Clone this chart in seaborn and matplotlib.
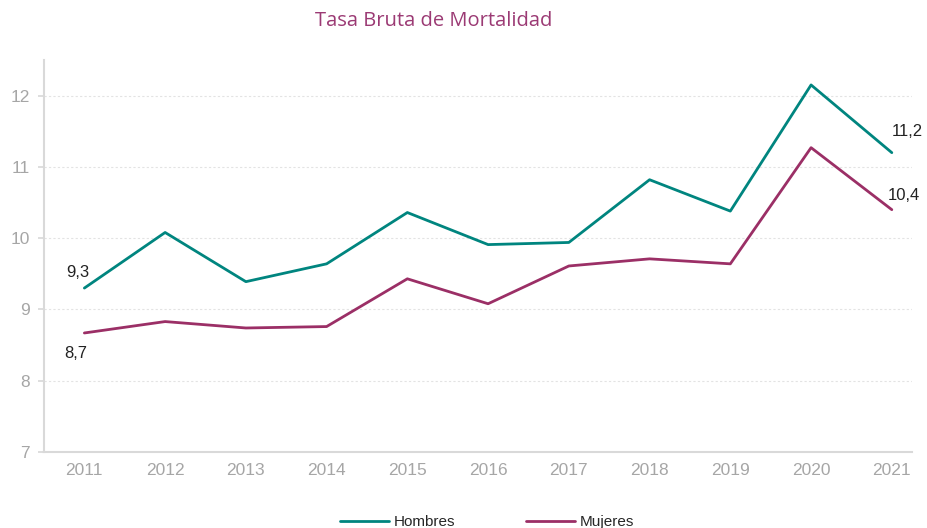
import matplotlib
matplotlib.use("Agg")
import matplotlib.pyplot as plt
from matplotlib.lines import Line2D
import numpy as np
import pandas as pd
import seaborn as sns

years = ["2011", "2012", "2013", "2014", "2015", "2016", "2017", "2018", "2019", "2020", "2021"]
hombres = [9.30, 10.08, 9.39, 9.64, 10.36, 9.91, 9.94, 10.82, 10.38, 12.15, 11.20]
mujeres = [8.67, 8.83, 8.74, 8.76, 9.43, 9.08, 9.61, 9.71, 9.64, 11.27, 10.40]

teal = "#00857f"
plum = "#9b2f66"
grey = "#a6a6a6"

df = pd.DataFrame({"Año": years * 2,
                   "Tasa": hombres + mujeres,
                   "Sexo": ["Hombres"] * len(years) + ["Mujeres"] * len(years)})

sns.set_theme(style="white")
plt.rcParams['font.family'] = ['Liberation Sans', 'DejaVu Sans']

fig = plt.figure(figsize=(9.28, 5.28), dpi=100)
ax = fig.add_axes([44 / 928, 1 - 452 / 528, (912 - 44) / 928, (452 - 60) / 528])

sns.lineplot(data=df, x="Año", y="Tasa", hue="Sexo", palette=[teal, plum],
             linewidth=2, ax=ax, legend=False, sort=False)

ax.set_xlim(-0.5, 10.25)
ax.set_ylim(7, 12.5)
ax.set_yticks([7, 8, 9, 10, 11, 12])
ax.set_xticks(np.arange(-0.5, 10.5, 1), minor=True)
ax.tick_params(axis="x", which="major", length=0, labelsize=12.5, labelcolor=grey, pad=8)
ax.tick_params(axis="x", which="minor", length=4, color="#d9d9d9", width=1)
ax.tick_params(axis="y", length=4, color="#d9d9d9", labelsize=12.5, labelcolor=grey, pad=6, left=True)
ax.set_xlabel("")
ax.set_ylabel("")
ax.grid(axis="y", color="#e3e3e3", linestyle=(0, (2, 2)), linewidth=0.8)
for s in ["top", "right"]:
    ax.spines[s].set_visible(False)
for s in ["left", "bottom"]:
    ax.spines[s].set_color("#d9d9d9")
    ax.spines[s].set_linewidth(1.5)

# data labels for first and last years
lab = dict(textcoords="offset points", ha="center", va="center", fontsize=12, color="#222222")
ax.annotate("9,3", (0, hombres[0]), xytext=(-5, 11), **lab)
ax.annotate("8,7", (0, mujeres[0]), xytext=(-6.5, -14.5), **lab)
ax.annotate("11,2", (10, hombres[-1]), xytext=(11, 15), **lab)
ax.annotate("10,4", (10, mujeres[-1]), xytext=(9, 10), **lab)

fig.text(434 / 928, 1 - 21 / 528, "Tasa Bruta de Mortalidad", ha="center", va="center",
         fontsize=14.5, color="#9b3a74", family=["Open Sans", "DejaVu Sans"])

# legend
handles = [Line2D([], [], color=teal, lw=2), Line2D([], [], color=plum, lw=2)]
fig.legend(handles, ["Hombres", "Mujeres"], loc="center", bbox_to_anchor=(487 / 928, 1 - 522 / 528),
           ncol=2, frameon=False, fontsize=11, handlelength=3.2, columnspacing=4.6,
           handletextpad=0.35, borderpad=0, borderaxespad=0)

fig.savefig("out.png", dpi=100)
